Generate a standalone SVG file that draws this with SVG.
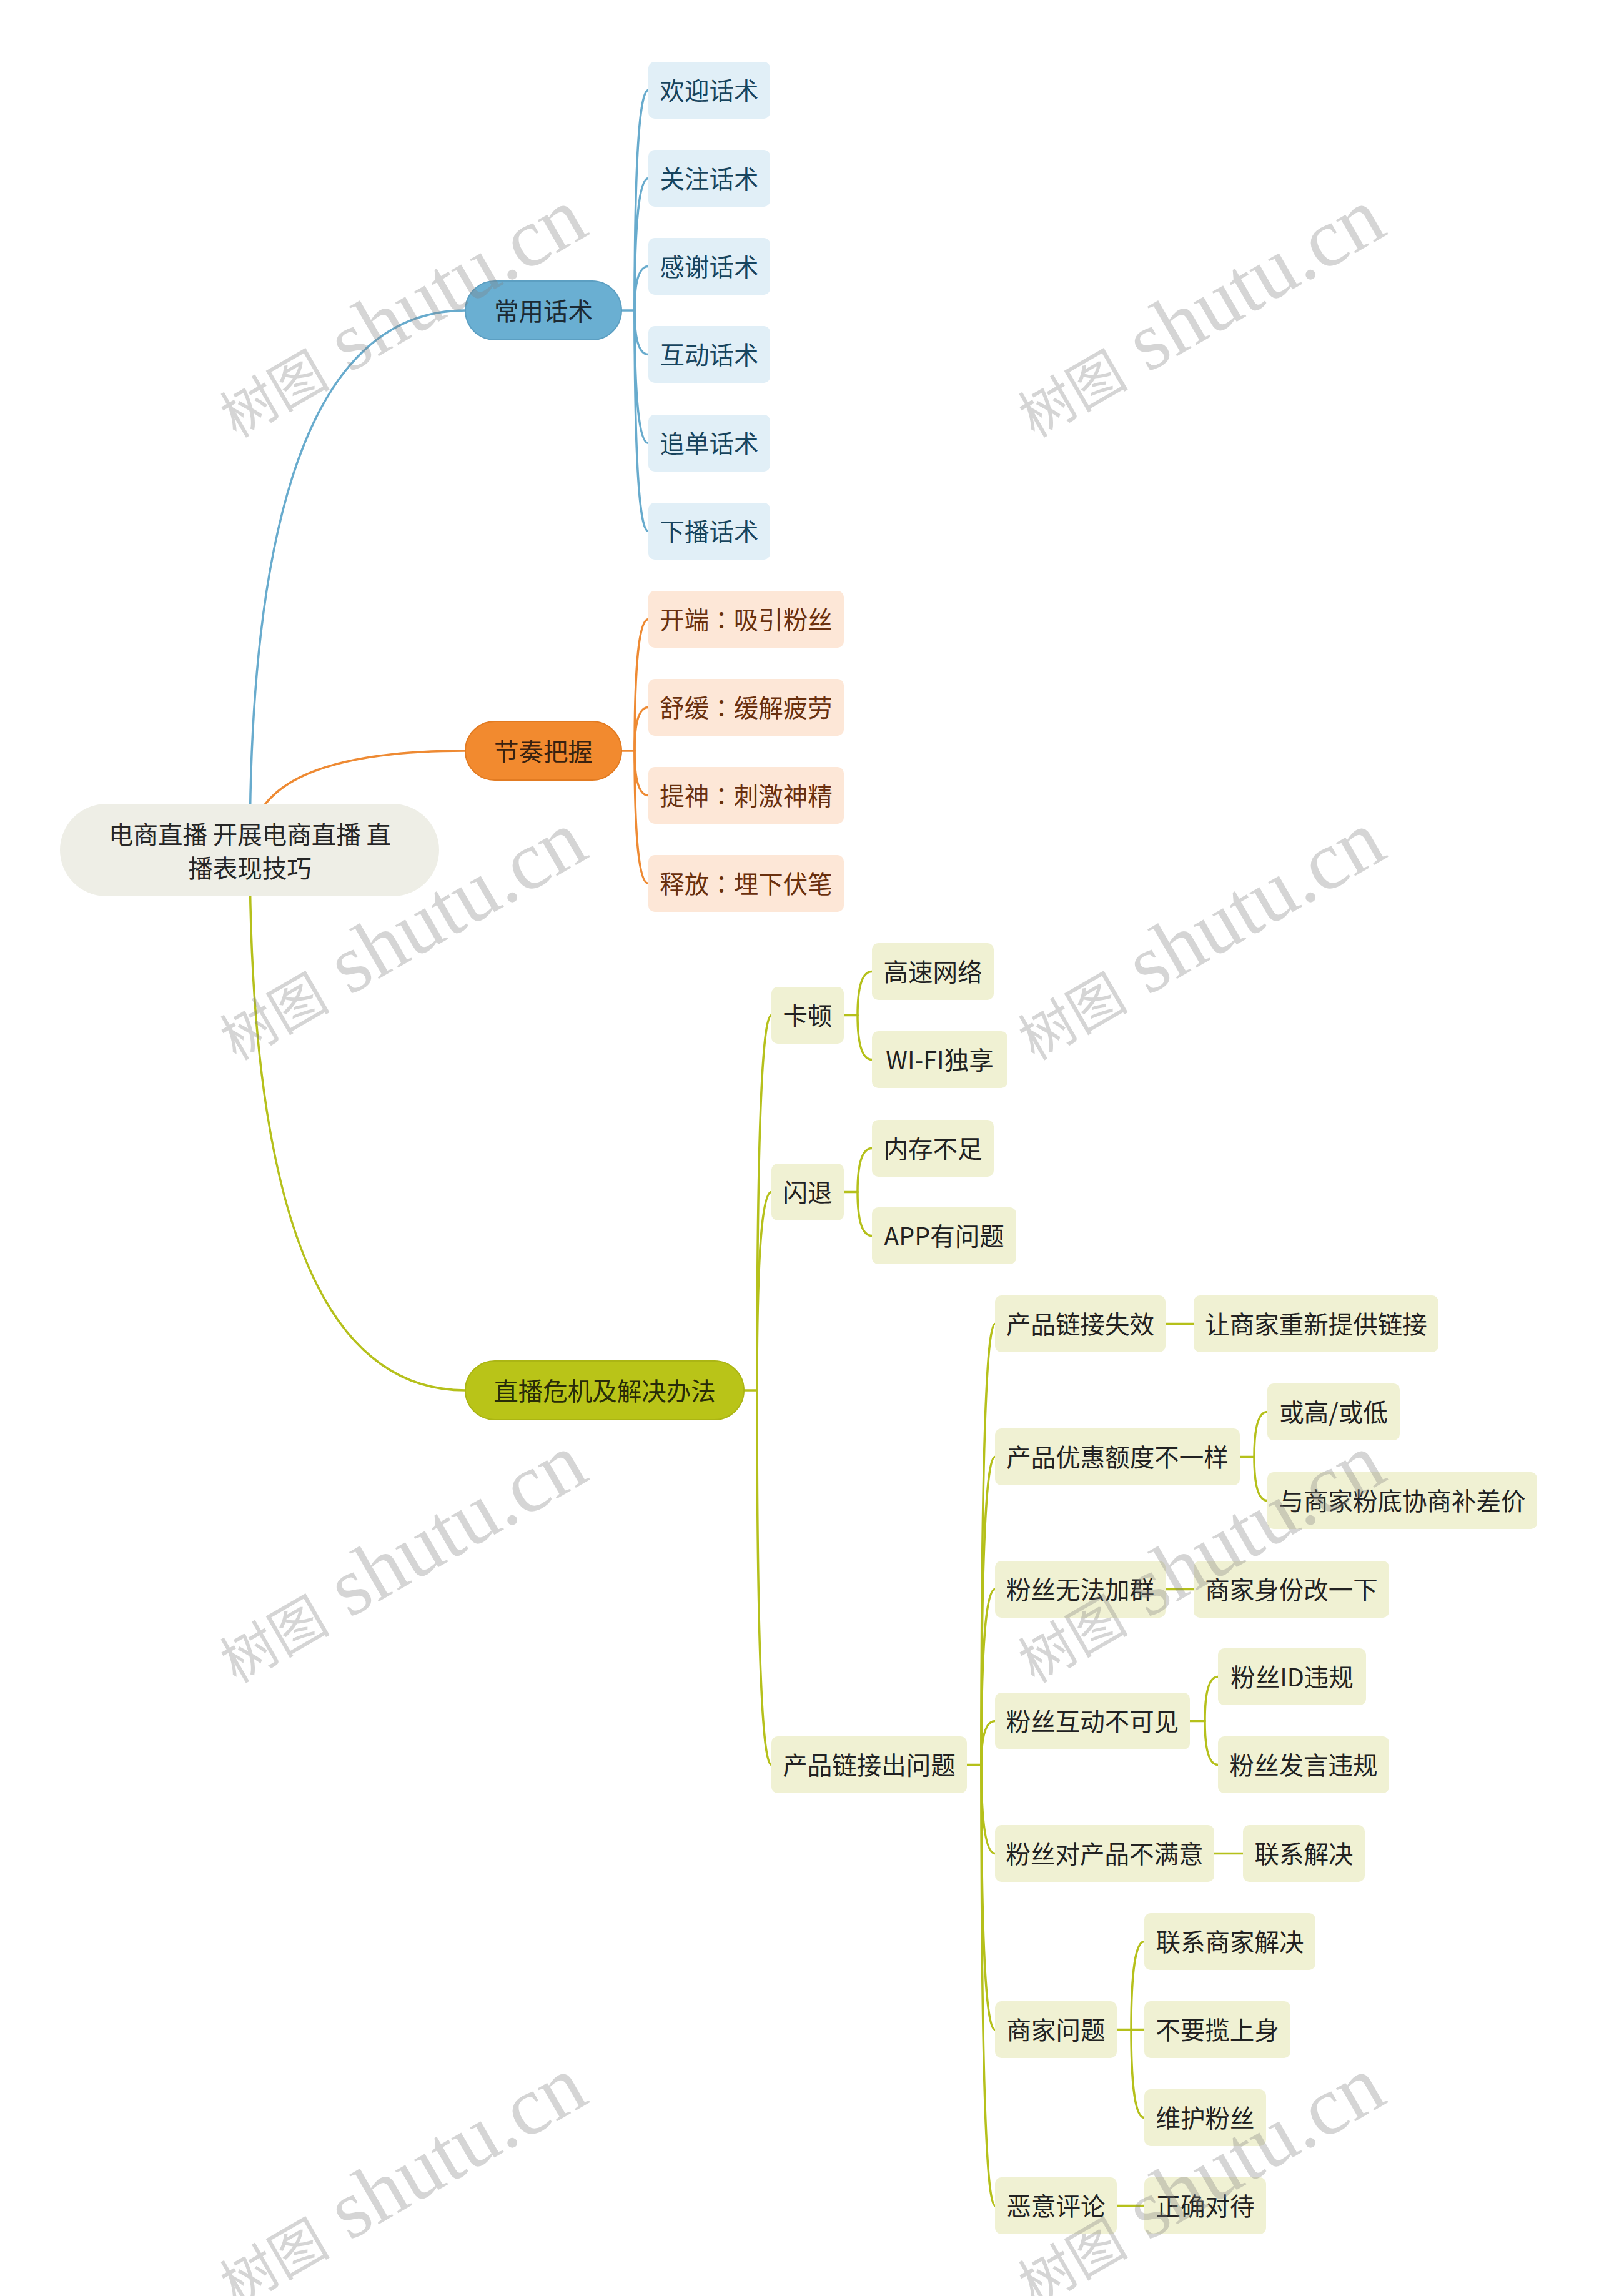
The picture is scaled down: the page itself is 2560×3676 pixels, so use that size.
<svg xmlns="http://www.w3.org/2000/svg" width="2560" height="3676" viewBox="0 0 2560 3676">
<style>
  text { font-family: "Noto Sans CJK SC", "Noto Sans", sans-serif; font-size: 39.5px; dominant-baseline: central; text-anchor: middle; }
  .cp { font-family: "Noto Sans CJK TC", "Noto Sans CJK SC", sans-serif; }
  .lk { fill: none; stroke-width: 3.5; stroke-linecap: round; }
  .lb { stroke: #68abcd; }
  .lo { stroke: #ee8a33; }
  .lg { stroke: #b5c01b; }
  .root rect { fill: #eeeee6; }
  .root text { fill: #262626; }
  .mb rect { fill: #6aafd2; stroke: #5c9fc2; stroke-width: 2; }
  .mb text { fill: #1c2a33; }
  .mo rect { fill: #f28a2f; stroke: #e27b22; stroke-width: 2; }
  .mo text { fill: #3a2210; }
  .mg rect { fill: #b9c418; stroke: #abb514; stroke-width: 2; }
  .mg text { fill: #282c08; }
  .cb rect { fill: #e1eff7; }
  .cb text { fill: #17445e; }
  .co rect { fill: #fde7d7; }
  .co text { fill: #6a300e; }
  .cg rect { fill: #f0f1d3; }
  .cg text { fill: #222222; }
  .wm { fill: #808080; fill-opacity: 0.33; dominant-baseline: auto; text-anchor: start; }
  .wmc { font-family: "Noto Sans CJK SC", sans-serif; font-size: 88px; }
  .wml { font-family: "Liberation Serif", serif; font-size: 133px; }
</style>

<g id="connectors">
  <path class="lk lb" d="M400 1361 Q400 497 745 497"/>
  <path class="lk lo" d="M400 1361 Q400 1202 745 1202"/>
  <path class="lk lg" d="M400 1361 Q400 2226 745 2226"/>

  <path class="lk lb" d="M995 497 H1016"/>
  <path class="lk lb" d="M1016 497 Q1016 144.5 1038 144.5"/>
  <path class="lk lb" d="M1016 497 Q1016 285.5 1038 285.5"/>
  <path class="lk lb" d="M1016 497 Q1016 426.5 1038 426.5"/>
  <path class="lk lb" d="M1016 497 Q1016 567.5 1038 567.5"/>
  <path class="lk lb" d="M1016 497 Q1016 709.5 1038 709.5"/>
  <path class="lk lb" d="M1016 497 Q1016 850.5 1038 850.5"/>

  <path class="lk lo" d="M995 1202 H1016"/>
  <path class="lk lo" d="M1016 1202 Q1016 991.5 1038 991.5"/>
  <path class="lk lo" d="M1016 1202 Q1016 1132.5 1038 1132.5"/>
  <path class="lk lo" d="M1016 1202 Q1016 1273.5 1038 1273.5"/>
  <path class="lk lo" d="M1016 1202 Q1016 1414.5 1038 1414.5"/>

  <path class="lk lg" d="M1191 2226 H1212"/>
  <path class="lk lg" d="M1212 2226 Q1212 1625.5 1235 1625.5"/>
  <path class="lk lg" d="M1212 2226 Q1212 1908.5 1235 1908.5"/>
  <path class="lk lg" d="M1212 2226 Q1212 2825.5 1235 2825.5"/>

  <path class="lk lg" d="M1351 1625.5 H1373"/>
  <path class="lk lg" d="M1373 1625.5 Q1373 1555.5 1396 1555.5"/>
  <path class="lk lg" d="M1373 1625.5 Q1373 1696.5 1396 1696.5"/>

  <path class="lk lg" d="M1351 1908.5 H1373"/>
  <path class="lk lg" d="M1373 1908.5 Q1373 1838.5 1396 1838.5"/>
  <path class="lk lg" d="M1373 1908.5 Q1373 1978.5 1396 1978.5"/>

  <path class="lk lg" d="M1548 2825.5 H1571"/>
  <path class="lk lg" d="M1571 2825.5 Q1571 2119.5 1593 2119.5"/>
  <path class="lk lg" d="M1571 2825.5 Q1571 2332.5 1593 2332.5"/>
  <path class="lk lg" d="M1571 2825.5 Q1571 2544.5 1593 2544.5"/>
  <path class="lk lg" d="M1571 2825.5 Q1571 2755.5 1593 2755.5"/>
  <path class="lk lg" d="M1571 2825.5 Q1571 2967.5 1593 2967.5"/>
  <path class="lk lg" d="M1571 2825.5 Q1571 3249.5 1593 3249.5"/>
  <path class="lk lg" d="M1571 2825.5 Q1571 3531.5 1593 3531.5"/>

  <path class="lk lg" d="M1866 2119.5 H1911"/>
  <path class="lk lg" d="M1985 2332.5 H2008"/>
  <path class="lk lg" d="M2008 2332.5 Q2008 2260.5 2029 2260.5"/>
  <path class="lk lg" d="M2008 2332.5 Q2008 2402.5 2029 2402.5"/>
  <path class="lk lg" d="M1866 2544.5 H1911"/>
  <path class="lk lg" d="M1905 2755.5 H1929"/>
  <path class="lk lg" d="M1929 2755.5 Q1929 2684.5 1950 2684.5"/>
  <path class="lk lg" d="M1929 2755.5 Q1929 2825.5 1950 2825.5"/>
  <path class="lk lg" d="M1944 2967.5 H1990"/>
  <path class="lk lg" d="M1788 3249.5 H1811"/>
  <path class="lk lg" d="M1811 3249.5 Q1811 3108.5 1832 3108.5"/>
  <path class="lk lg" d="M1811 3249.5 H1832"/>
  <path class="lk lg" d="M1811 3249.5 Q1811 3390.5 1832 3390.5"/>
  <path class="lk lg" d="M1788 3531.5 H1832"/>
</g>

<g id="root" class="root">
  <rect x="96" y="1287" width="607" height="148" rx="74"/>
  <text x="400" y="1333">电商直播 开展电商直播 直</text>
  <text x="400" y="1387">播表现技巧</text>
</g>

<g id="n-changyong" class="mb"><rect x="745" y="450" width="250" height="94" rx="47"/><text x="870" y="495">常用话术</text></g>
<g id="n-jiezou" class="mo"><rect x="745" y="1155" width="250" height="94" rx="47"/><text x="870" y="1200">节奏把握</text></g>
<g id="n-weiji" class="mg"><rect x="745" y="2179" width="446" height="94" rx="47"/><text x="968" y="2224">直播危机及解决办法</text></g>

<g id="n-b1" class="cb"><rect x="1038" y="99" width="195" height="91" rx="10"/><text x="1135.5" y="142.5">欢迎话术</text></g>
<g id="n-b2" class="cb"><rect x="1038" y="240" width="195" height="91" rx="10"/><text x="1135.5" y="283.5">关注话术</text></g>
<g id="n-b3" class="cb"><rect x="1038" y="381" width="195" height="91" rx="10"/><text x="1135.5" y="424.5">感谢话术</text></g>
<g id="n-b4" class="cb"><rect x="1038" y="522" width="195" height="91" rx="10"/><text x="1135.5" y="565.5">互动话术</text></g>
<g id="n-b5" class="cb"><rect x="1038" y="664" width="195" height="91" rx="10"/><text x="1135.5" y="707.5">追单话术</text></g>
<g id="n-b6" class="cb"><rect x="1038" y="805" width="195" height="91" rx="10"/><text x="1135.5" y="848.5">下播话术</text></g>

<g id="n-o1" class="co"><rect x="1038" y="946" width="313" height="91" rx="10"/><text x="1194.5" y="989.5">开端<tspan class="cp">：</tspan>吸引粉丝</text></g>
<g id="n-o2" class="co"><rect x="1038" y="1087" width="313" height="91" rx="10"/><text x="1194.5" y="1130.5">舒缓<tspan class="cp">：</tspan>缓解疲劳</text></g>
<g id="n-o3" class="co"><rect x="1038" y="1228" width="313" height="91" rx="10"/><text x="1194.5" y="1271.5">提神<tspan class="cp">：</tspan>刺激神精</text></g>
<g id="n-o4" class="co"><rect x="1038" y="1369" width="313" height="91" rx="10"/><text x="1194.5" y="1412.5">释放<tspan class="cp">：</tspan>埋下伏笔</text></g>

<g id="n-kadun" class="cg"><rect x="1235" y="1580" width="116" height="91" rx="10"/><text x="1293" y="1623.5">卡顿</text></g>
<g id="n-shantui" class="cg"><rect x="1235" y="1863" width="116" height="91" rx="10"/><text x="1293" y="1906.5">闪退</text></g>
<g id="n-lianjie" class="cg"><rect x="1235" y="2780" width="313" height="91" rx="10"/><text x="1391.5" y="2823.5">产品链接出问题</text></g>

<g id="n-gaosu" class="cg"><rect x="1396" y="1510" width="195" height="91" rx="10"/><text x="1493.5" y="1553.5">高速网络</text></g>
<g id="n-wifi" class="cg"><rect x="1396" y="1651" width="217" height="91" rx="10"/><text x="1504.5" y="1694.5">WI-FI独享</text></g>
<g id="n-neicun" class="cg"><rect x="1396" y="1793" width="195" height="91" rx="10"/><text x="1493.5" y="1836.5">内存不足</text></g>
<g id="n-app" class="cg"><rect x="1396" y="1933" width="231" height="91" rx="10"/><text x="1511.5" y="1976.5">APP有问题</text></g>

<g id="n-p1" class="cg"><rect x="1593" y="2074" width="273" height="91" rx="10"/><text x="1729.5" y="2117.5">产品链接失效</text></g>
<g id="n-p2" class="cg"><rect x="1593" y="2287" width="392" height="91" rx="10"/><text x="1789" y="2330.5">产品优惠额度不一样</text></g>
<g id="n-p3" class="cg"><rect x="1593" y="2499" width="273" height="91" rx="10"/><text x="1729.5" y="2542.5">粉丝无法加群</text></g>
<g id="n-p4" class="cg"><rect x="1593" y="2710" width="312" height="91" rx="10"/><text x="1749" y="2753.5">粉丝互动不可见</text></g>
<g id="n-p5" class="cg"><rect x="1593" y="2922" width="351" height="91" rx="10"/><text x="1768.5" y="2965.5">粉丝对产品不满意</text></g>
<g id="n-p6" class="cg"><rect x="1593" y="3204" width="195" height="91" rx="10"/><text x="1690.5" y="3247.5">商家问题</text></g>
<g id="n-p7" class="cg"><rect x="1593" y="3486" width="195" height="91" rx="10"/><text x="1690.5" y="3529.5">恶意评论</text></g>

<g id="n-q1" class="cg"><rect x="1911" y="2074" width="392" height="91" rx="10"/><text x="2107" y="2117.5">让商家重新提供链接</text></g>
<g id="n-q2" class="cg"><rect x="2029" y="2215" width="212" height="91" rx="10"/><text x="2135" y="2258.5">或高/或低</text></g>
<g id="n-q3" class="cg"><rect x="2029" y="2357" width="432" height="91" rx="10"/><text x="2245" y="2400.5">与商家粉底协商补差价</text></g>
<g id="n-q4" class="cg"><rect x="1911" y="2499" width="313" height="91" rx="10"/><text x="2067.5" y="2542.5">商家身份改一下</text></g>
<g id="n-q5" class="cg"><rect x="1950" y="2639" width="237" height="91" rx="10"/><text x="2068.5" y="2682.5">粉丝ID违规</text></g>
<g id="n-q6" class="cg"><rect x="1950" y="2780" width="274" height="91" rx="10"/><text x="2087" y="2823.5">粉丝发言违规</text></g>
<g id="n-q7" class="cg"><rect x="1990" y="2922" width="195" height="91" rx="10"/><text x="2087.5" y="2965.5">联系解决</text></g>
<g id="n-q8" class="cg"><rect x="1832" y="3063" width="274" height="91" rx="10"/><text x="1969" y="3106.5">联系商家解决</text></g>
<g id="n-q9" class="cg"><rect x="1832" y="3204" width="234" height="91" rx="10"/><text x="1949" y="3247.5">不要揽上身</text></g>
<g id="n-q10" class="cg"><rect x="1832" y="3345" width="195" height="91" rx="10"/><text x="1929.5" y="3388.5">维护粉丝</text></g>
<g id="n-q11" class="cg"><rect x="1832" y="3486" width="195" height="91" rx="10"/><text x="1929.5" y="3529.5">正确对待</text></g>

<g id="watermarks">
  <text class="wm" x="378" y="702" transform="rotate(-30 378 702)"><tspan class="wmc">树图</tspan><tspan class="wml"> shutu.cn</tspan></text>
  <text class="wm" x="1656" y="702" transform="rotate(-30 1656 702)"><tspan class="wmc">树图</tspan><tspan class="wml"> shutu.cn</tspan></text>
  <text class="wm" x="378" y="1699" transform="rotate(-30 378 1699)"><tspan class="wmc">树图</tspan><tspan class="wml"> shutu.cn</tspan></text>
  <text class="wm" x="1656" y="1699" transform="rotate(-30 1656 1699)"><tspan class="wmc">树图</tspan><tspan class="wml"> shutu.cn</tspan></text>
  <text class="wm" x="378" y="2696" transform="rotate(-30 378 2696)"><tspan class="wmc">树图</tspan><tspan class="wml"> shutu.cn</tspan></text>
  <text class="wm" x="1656" y="2696" transform="rotate(-30 1656 2696)"><tspan class="wmc">树图</tspan><tspan class="wml"> shutu.cn</tspan></text>
  <text class="wm" x="378" y="3693" transform="rotate(-30 378 3693)"><tspan class="wmc">树图</tspan><tspan class="wml"> shutu.cn</tspan></text>
  <text class="wm" x="1656" y="3693" transform="rotate(-30 1656 3693)"><tspan class="wmc">树图</tspan><tspan class="wml"> shutu.cn</tspan></text>
</g>
</svg>
